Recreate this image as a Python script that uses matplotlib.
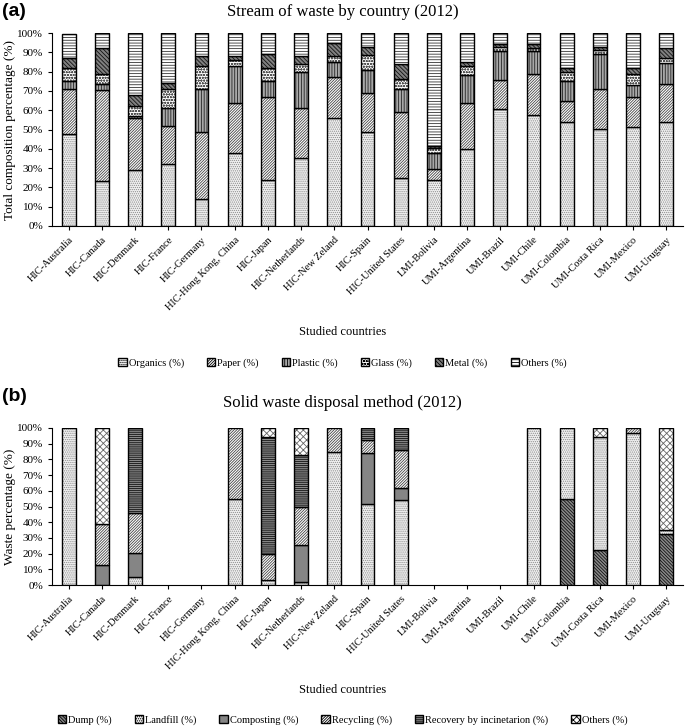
import numpy as np
import matplotlib
matplotlib.use("Agg")
import matplotlib.pyplot as plt
from matplotlib.patches import Patch

plt.rcParams['font.family'] = ['Liberation Serif', 'DejaVu Serif']
plt.rcParams['hatch.linewidth'] = 0.6

countries = ["HIC-Australia", "HIC-Canada", "HIC-Denmark", "HIC-France", "HIC-Germany",
             "HIC-Hong Kong, China", "HIC-Japan", "HIC-Netherlands", "HIC-New Zeland",
             "HIC-Spain", "HIC-United States", "LMI-Bolivia", "UMI-Argentina", "UMI-Brazil",
             "UMI-Chile", "UMI-Colombia", "UMI-Costa Rica", "UMI-Mexico", "UMI-Uruguay"]

# (a) waste composition, %
organics = [47.5, 23.5, 29, 32, 14, 38, 24, 35, 56, 48.5, 25, 24, 40, 60.5, 57.5, 54, 50.5, 51.5, 54]
paper    = [23.5, 47, 27, 20, 34.5, 26, 43, 26, 21, 20.5, 34, 5.5, 24, 15, 21.5, 11, 20.5, 15.5, 19.5]
plastic  = [4, 3, 1, 9, 22.5, 19, 8, 19, 8, 12, 12, 8.5, 14, 15, 11.5, 10, 18, 6, 11]
glass    = [7, 5.5, 5, 10, 12, 3, 7, 4, 3, 7.5, 5, 2.5, 5, 2.5, 2, 5, 2, 6, 2.5]
metal    = [5, 13.5, 6, 3, 5, 2, 7, 4, 7, 4.5, 8, 1, 2, 1.5, 2, 2, 2, 3, 5]
others_a = [12.5, 7.5, 32, 26, 12, 12, 11, 12, 5, 7, 16, 58.5, 15, 5.5, 5.5, 18, 7, 18, 8]

# (b) disposal method, %
dump       = [0, 0, 0, 0, 0, 0, 0, 0, 0, 0, 0, 0, 0, 0, 0, 54.5, 22.5, 0, 32.5]
landfill   = [100, 0, 5, 0, 0, 55, 3, 2, 85, 51.5, 54, 0, 0, 0, 100, 45.5, 72, 97, 2.5]
composting = [0, 12.5, 15.5, 0, 0, 0, 0, 23.5, 0, 32.5, 8, 0, 0, 0, 0, 0, 0, 0, 0]
recycling  = [0, 26.5, 25.5, 0, 0, 45, 16.5, 24.5, 15, 8.5, 24, 0, 0, 0, 0, 0, 0, 3, 0]
recovery   = [0, 0, 54, 0, 0, 0, 74.5, 32.5, 0, 7.5, 14, 0, 0, 0, 0, 0, 0, 0, 0]
others_b   = [0, 61, 0, 0, 0, 0, 6, 17.5, 0, 0, 0, 0, 0, 0, 0, 0, 5.5, 0, 65]

# (label, values, face, hatch, hatch colour)
series_a = [("Organics (%)", organics, "#f0f0f0", "........", "#8c8c8c"),
            ("Paper (%)", paper, "white", "////////////", "#444444"),
            ("Plastic (%)", plastic, "#a8a8a8", "||||||", "#222222"),
            ("Glass (%)", glass, "white", "oooooo", "#555555"),
            ("Metal (%)", metal, "#808080", "\\\\\\\\\\\\\\\\", "#111111"),
            ("Others (%)", others_a, "white", "------", "#333333")]

series_b = [("Dump (%)", dump, "#8a8a8a", "\\\\\\\\\\\\\\\\\\\\", "#111111"),
            ("Landfill (%)", landfill, "#f0f0f0", "........", "#8c8c8c"),
            ("Composting (%)", composting, "#858585", None, "#858585"),
            ("Recycling (%)", recycling, "white", "////////////", "#444444"),
            ("Recovery by incinetarion (%)", recovery, "#8a8a8a", "--------", "#111111"),
            ("Others (%)", others_b, "white", "xxxxx", "#666666")]

fig = plt.figure(figsize=(6.85, 7.28), dpi=100)
ax1 = fig.add_axes([0.076, 0.6896, 0.921, 0.265])
ax2 = fig.add_axes([0.076, 0.1964, 0.921, 0.2157])

x = np.arange(len(countries))
w = 0.42


def draw(ax, series, ylabel, title, tag, ty, tagy, xly, lgy):
    bottom = np.zeros(len(countries))
    handles = []
    for label, vals, face, hatch, hc in series:
        vals = np.array(vals, dtype=float)
        m = vals > 0
        ax.bar(x[m], vals[m], w, bottom=bottom[m], color=face, edgecolor=hc, hatch=hatch, linewidth=0)
        ax.bar(x[m], vals[m], w, bottom=bottom[m], fill=False, edgecolor="black", linewidth=1.0)
        bottom += vals
        handles.append(Patch(facecolor=face, edgecolor="black", hatch=hatch, linewidth=1.0, label=label))
    ax.set_xlim(-0.5, len(countries) - 0.5)
    ax.set_ylim(0, 100)
    ax.set_yticks(np.arange(0, 101, 10))
    ax.set_yticklabels([f"{v}%" for v in range(0, 101, 10)], fontsize=8)
    ax.set_xticks(x)
    ax.set_xticklabels(countries, rotation=45, ha="right", rotation_mode="anchor", fontsize=7.5)
    ax.tick_params(axis="both", direction="out", length=3, width=0.8)
    ax.spines["top"].set_visible(False)
    ax.spines["right"].set_visible(False)
    ax.set_ylabel(ylabel, fontsize=9.5, labelpad=1)
    fig.text(0.5, ty, title, ha="center", va="center", fontsize=12)
    fig.text(0.003, tagy, tag, ha="left", va="center", fontsize=14, fontweight="bold",
             family=["Liberation Sans", "DejaVu Sans"])
    fig.text(0.5, xly, "Studied countries", ha="center", va="center", fontsize=9)
    fig.legend(handles=handles, loc="center", bbox_to_anchor=(0.5, lgy), ncol=6, frameon=False,
               fontsize=7.5, handlelength=0.8, handleheight=0.8, handletextpad=0.2,
               columnspacing=2.2)


draw(ax1, series_a, "Total composition percentage (%)", "Stream of waste by country (2012)",
     "(a)", 0.984, 0.984, 0.544, 0.501)
draw(ax2, series_b, "Waste percentage (%)", "Solid waste disposal method (2012)",
     "(b)", 0.4464, 0.4547, 0.052, 0.011)

fig.savefig("out.png", dpi=100)
